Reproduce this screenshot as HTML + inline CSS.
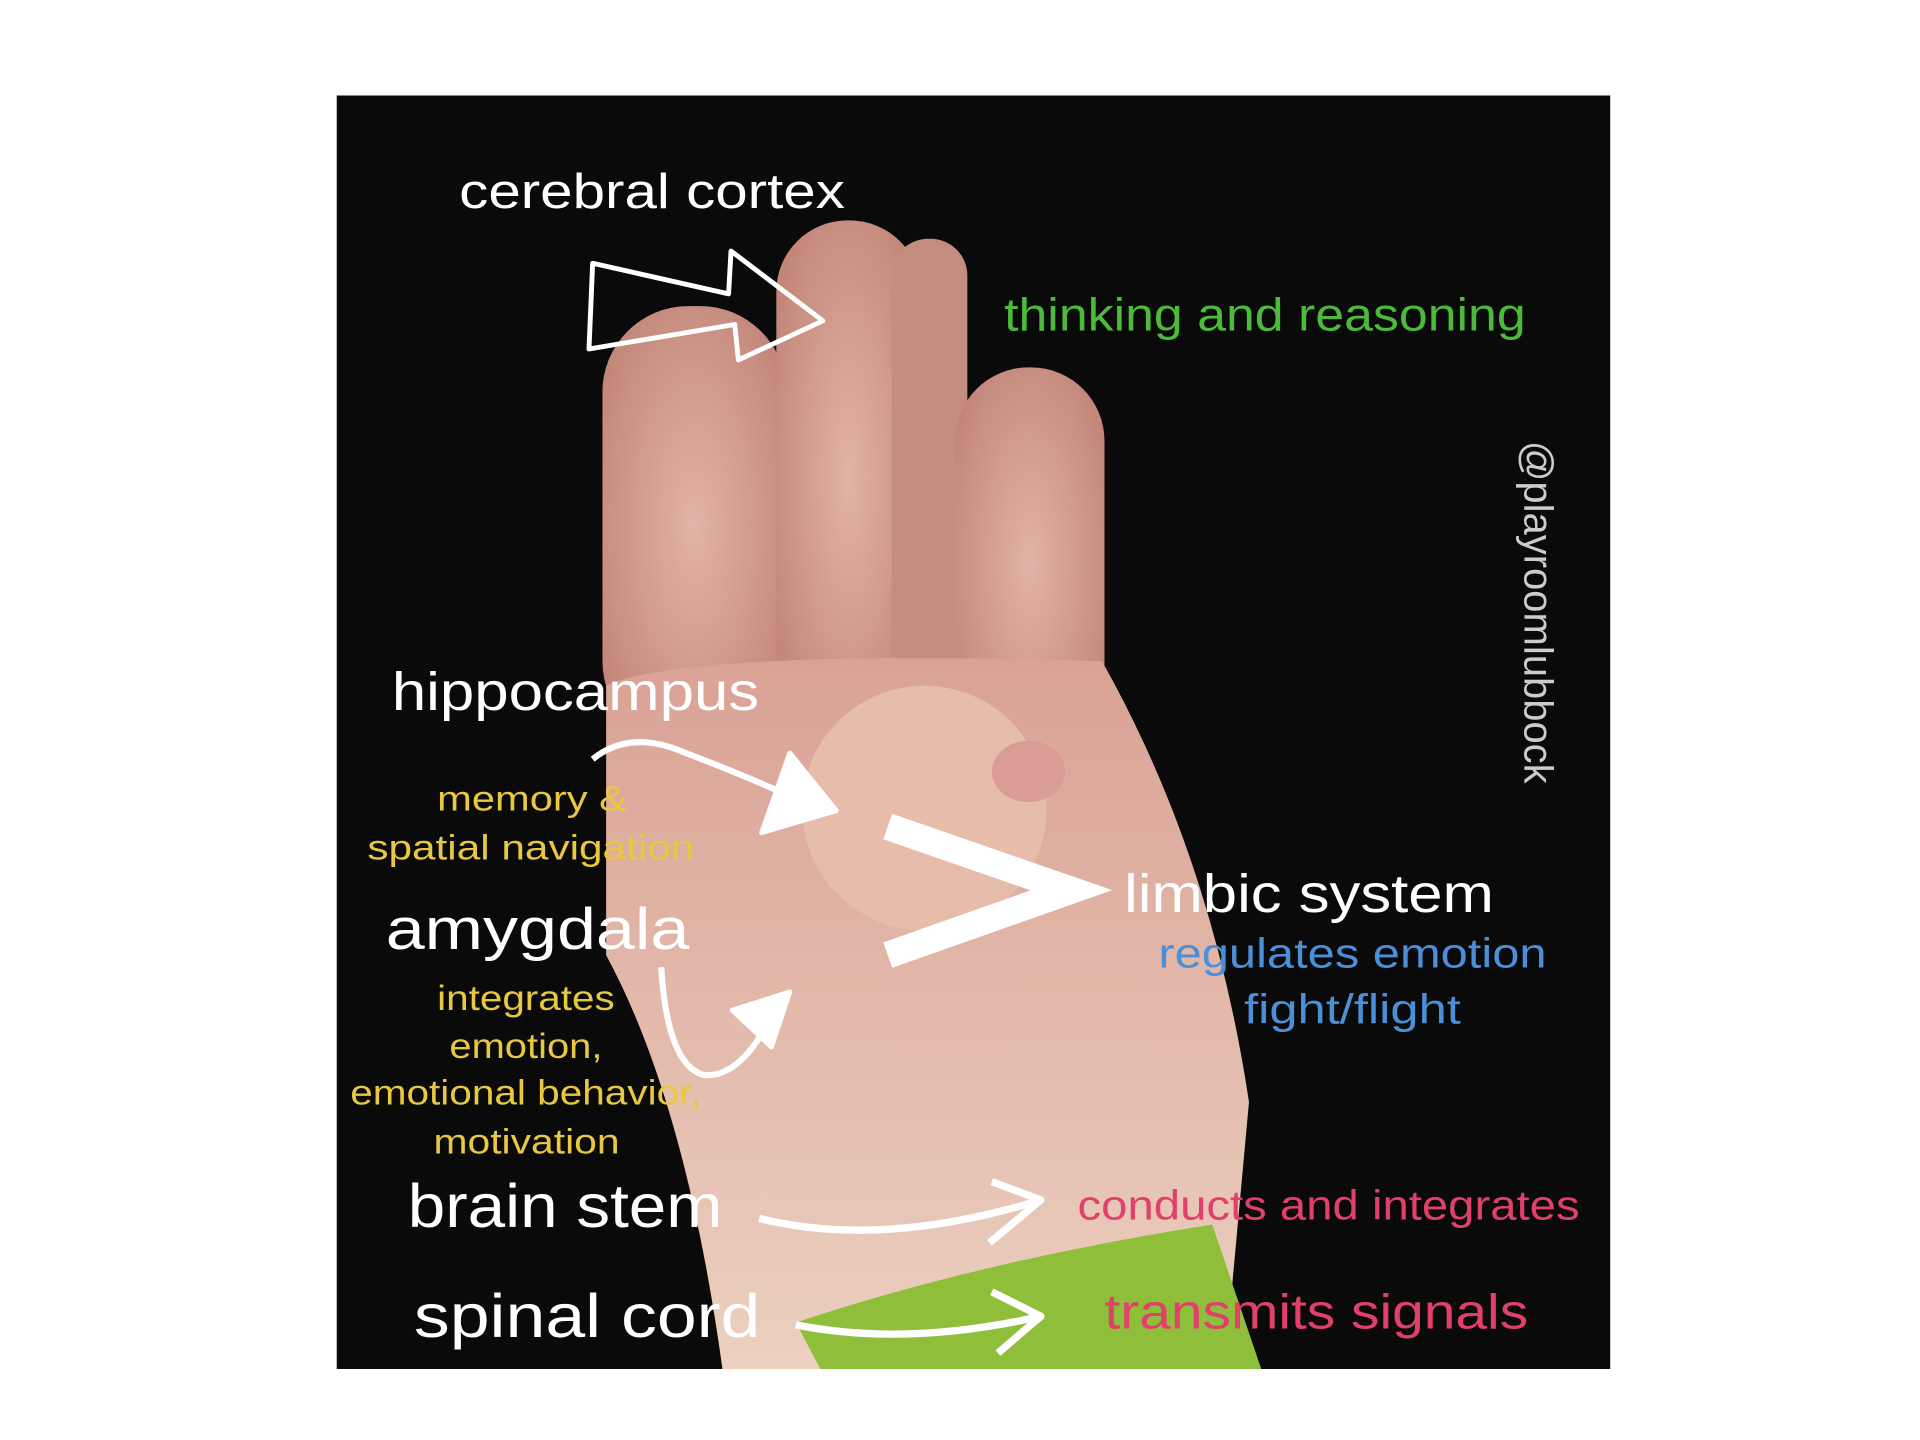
<!DOCTYPE html>
<html><head><meta charset="utf-8"><style>
html,body{margin:0;padding:0;background:#fff;width:1920px;height:1440px;overflow:hidden}
svg{display:block}
text{font-family:"Liberation Sans","DejaVu Sans",sans-serif}
</style></head><body>
<svg width="1920" height="1440" viewBox="0 0 1568 1176" xmlns="http://www.w3.org/2000/svg">
<defs>
<radialGradient id="sk" cx="0.5" cy="0.5" r="0.6">
<stop offset="0" stop-color="#e2b3a6"/><stop offset="1" stop-color="#c28679"/>
</radialGradient>
<linearGradient id="palm" x1="0" y1="0" x2="0" y2="1">
<stop offset="0" stop-color="#d9a295"/><stop offset="1" stop-color="#ecd0c0"/>
</linearGradient>
</defs>
<rect x="275" y="78" width="1040" height="1040" fill="#0a0a0b"/>
<g>
<rect x="492" y="250" width="150" height="360" rx="70" fill="url(#sk)"/>
<rect x="634" y="180" width="118" height="420" rx="58" fill="url(#sk)"/>
<rect x="728" y="195" width="62" height="400" rx="30" fill="#c48d80"/>
<rect x="780" y="300" width="122" height="320" rx="60" fill="url(#sk)"/>
<path d="M495 560 Q560 530 900 540 Q990 700 1020 900 L1000 1118 L590 1118 Q560 900 495 780 Z" fill="url(#palm)"/>
<circle cx="755" cy="660" r="100" fill="#e6bcab"/>
<ellipse cx="840" cy="630" rx="30" ry="25" fill="#d99d95"/>
<path d="M650 1080 Q800 1030 990 1000 L1030 1118 L670 1118 Z" fill="#8fbf3a"/>
</g>
<g fill="none" stroke="#fff" stroke-width="4" stroke-linejoin="round">
<path d="M484 215 L595 240 L597 205 L672 262 L603 294 L600 265 L481 285 Z"/>
<path d="M484 620 Q515 595 560 615 Q600 630 645 650" stroke-width="5"/>
<path d="M645 615 L683 662 L622 680 Z" fill="#fff"/>
<path d="M540 790 Q545 870 575 878 Q605 880 630 830" stroke-width="5"/>
<path d="M598 825 L645 810 L630 855 Z" fill="#fff"/>
<path d="M620 995 Q720 1020 850 980" stroke-width="6"/>
<path d="M810 965 L850 980 L808 1015" stroke-width="6"/>
<path d="M650 1082 Q740 1100 850 1075" stroke-width="6"/>
<path d="M810 1055 L850 1075 L815 1105" stroke-width="6"/>
<path d="M725 675 L875 727 L725 780" stroke-width="22" stroke-linejoin="miter"/>
</g>
<g fill="#fff" lengthAdjust="spacingAndGlyphs">
<text x="375" y="170" font-size="40" textLength="315" lengthAdjust="spacingAndGlyphs">cerebral cortex</text>
<text x="320" y="580" font-size="44" textLength="300" lengthAdjust="spacingAndGlyphs">hippocampus</text>
<text x="315" y="775" font-size="48" textLength="248" lengthAdjust="spacingAndGlyphs">amygdala</text>
<text x="333" y="1002" font-size="50" textLength="257" lengthAdjust="spacingAndGlyphs">brain stem</text>
<text x="338" y="1092" font-size="50" textLength="283" lengthAdjust="spacingAndGlyphs">spinal cord</text>
<text x="918" y="745" font-size="44" textLength="302" lengthAdjust="spacingAndGlyphs">limbic system</text>
</g>
<text x="820" y="270" font-size="38" fill="#4cbb3a" textLength="426" lengthAdjust="spacingAndGlyphs">thinking and reasoning</text>
<text transform="translate(1245 360) rotate(90)" font-size="33" fill="#ccc" textLength="280" lengthAdjust="spacingAndGlyphs">@playroomlubbock</text>
<g fill="#e8c840" font-size="29">
<text x="357" y="662" textLength="155" lengthAdjust="spacingAndGlyphs">memory &amp;</text>
<text x="300" y="702" textLength="267" lengthAdjust="spacingAndGlyphs">spatial navigation</text>
<text x="357" y="825" textLength="145" lengthAdjust="spacingAndGlyphs">integrates</text>
<text x="367" y="864" textLength="125" lengthAdjust="spacingAndGlyphs">emotion,</text>
<text x="286" y="902" textLength="287" lengthAdjust="spacingAndGlyphs">emotional behavior,</text>
<text x="354" y="942" textLength="152" lengthAdjust="spacingAndGlyphs">motivation</text>
</g>
<g fill="#4a8fd8" font-size="34">
<text x="946" y="790" textLength="317" lengthAdjust="spacingAndGlyphs">regulates emotion</text>
<text x="1016" y="836" textLength="177" lengthAdjust="spacingAndGlyphs">fight/flight</text>
</g>
<g fill="#e0406a">
<text x="880" y="996" font-size="34" textLength="410" lengthAdjust="spacingAndGlyphs">conducts and integrates</text>
<text x="902" y="1085" font-size="40" textLength="346" lengthAdjust="spacingAndGlyphs">transmits signals</text>
</g>
</svg>
</body></html>
